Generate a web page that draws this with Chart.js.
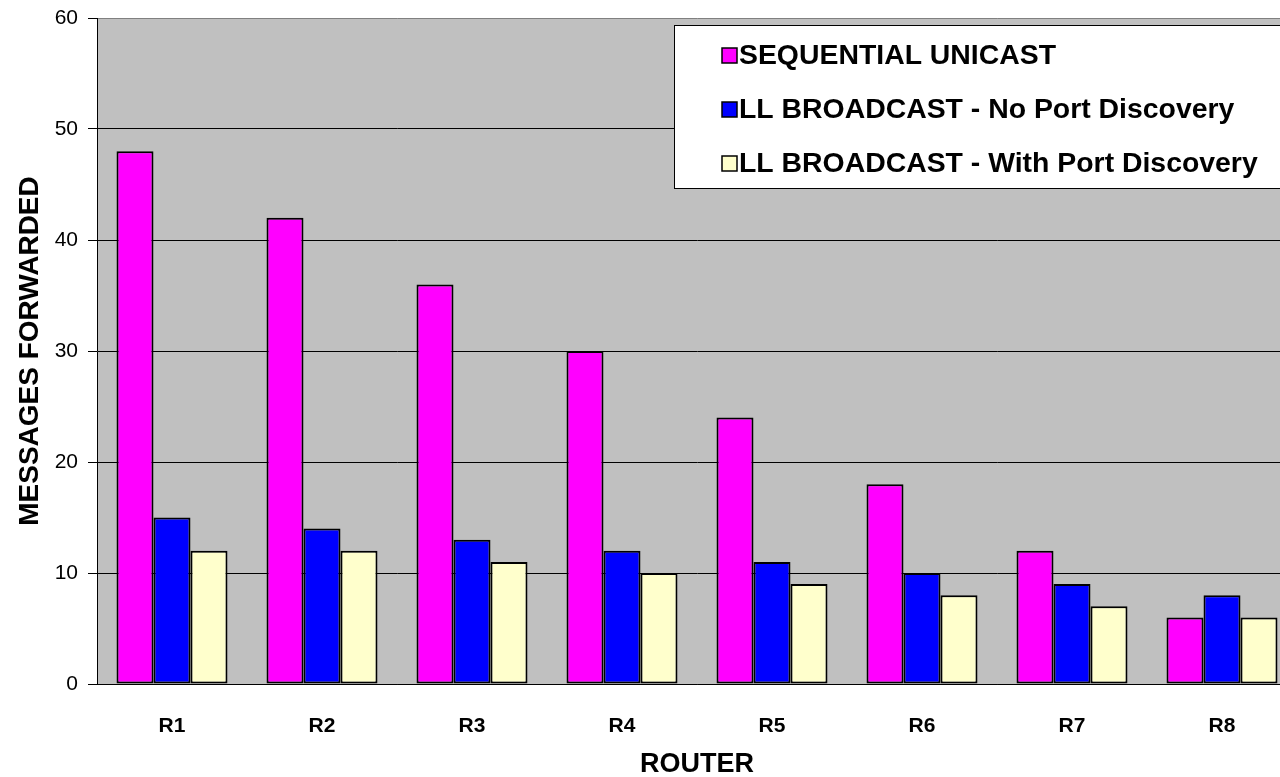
<!DOCTYPE html>
<html>
<head>
<meta charset="utf-8">
<script src="https://cdn.jsdelivr.net/npm/chart.js@4"></script>
<style>
  html, body { margin: 0; padding: 0; background: #fff; overflow: hidden; }
  #wrap { width: 1300px; height: 777px; }
</style>
</head>
<body>
<div id="wrap"><canvas id="c" width="1300" height="777"></canvas></div>
<script>
const routers = ['R1', 'R2', 'R3', 'R4', 'R5', 'R6', 'R7', 'R8'];
const seqUnicast = [48, 42, 36, 30, 24, 18, 12, 6];
const llNoDiscovery = [15, 14, 13, 12, 11, 10, 9, 8];
const llWithDiscovery = [12, 12, 11, 10, 9, 8, 7, 6];
const yTicks = [0, 10, 20, 30, 40, 50, 60];

const FONT = '"Liberation Sans", Arial, sans-serif';

// Gray plot background behind the bars
const plotBackground = {
  id: 'plotBackground',
  beforeDraw(chart) {
    const { ctx, chartArea: a } = chart;
    ctx.save();
    ctx.fillStyle = '#C0C0C0';
    ctx.fillRect(a.left, a.top, a.right - a.left, a.bottom - a.top);
    ctx.restore();
  }
};

// Boxed legend in the upper right of the plot
const boxedLegend = {
  id: 'boxedLegend',
  afterDraw(chart) {
    const { ctx } = chart;
    const x = 674, y = 25, w = 618, h = 163;
    ctx.save();
    ctx.fillStyle = '#fff';
    ctx.fillRect(x, y, w, h);
    ctx.strokeStyle = '#000';
    ctx.lineWidth = 1;
    ctx.strokeRect(x + 0.5, y + 0.5, w, h);
    ctx.font = 'bold 28.4px ' + FONT;
    ctx.textBaseline = 'middle';
    chart.data.datasets.forEach((ds, i) => {
      const cy = 55 + i * 54;
      ctx.fillStyle = ds.backgroundColor;
      ctx.fillRect(722, cy - 7, 15, 15);
      ctx.strokeStyle = '#000';
      ctx.lineWidth = 1.5;
      ctx.strokeRect(722, cy - 7, 15, 15);
      ctx.fillStyle = '#000';
      ctx.fillText(ds.label, 739, cy + 1);
    });
    ctx.restore();
  }
};

new Chart(document.getElementById('c'), {
  type: 'bar',
  data: {
    labels: routers,
    datasets: [
      { label: 'SEQUENTIAL UNICAST', data: seqUnicast, backgroundColor: '#FF00FF' },
      { label: 'LL BROADCAST - No Port Discovery', data: llNoDiscovery, backgroundColor: '#0000FF' },
      { label: 'LL BROADCAST - With Port Discovery', data: llWithDiscovery, backgroundColor: '#FFFFCC' }
    ]
  },
  options: {
    responsive: false,
    animation: false,
    layout: { padding: { top: 18, right: 3, left: 0, bottom: 0 } },
    datasets: {
      bar: {
        borderColor: '#000',
        borderWidth: 2,
        borderSkipped: false,
        categoryPercentage: 0.74,
        barPercentage: 1.0
      }
    },
    plugins: {
      legend: { display: false },
      tooltip: { enabled: false }
    },
    scales: {
      x: {
        grid: { display: false, drawTicks: false },
        border: { display: true, color: '#000', width: 1 },
        ticks: { color: '#000', padding: 30, font: { family: FONT, size: 21, weight: 'bold' } },
        title: {
          display: true, text: 'ROUTER', color: '#000',
          font: { family: FONT, size: 27, weight: 'bold' },
          padding: { top: 0, bottom: -4 }
        },
        afterFit(scale) { scale.height = 93; scale.paddingLeft = 0; scale.paddingRight = 0; }
      },
      y: {
        min: 0, max: 60,
        afterBuildTicks(scale) { scale.ticks = yTicks.map(v => ({ value: v })); },
        grid: {
          color: ctx => (ctx.tick && ctx.tick.value === 60 ? '#808080' : '#000'),
          lineWidth: 1,
          tickLength: 9,
          tickColor: '#000'
        },
        border: { display: true, color: '#000', width: 1 },
        ticks: { color: '#000', padding: 10, font: { family: FONT, size: 21 } },
        title: {
          display: true, text: 'MESSAGES FORWARDED', color: '#000',
          font: { family: FONT, size: 28, weight: 'bold' },
          padding: { top: 13, bottom: 0 }
        },
        afterFit(scale) { scale.width = 97; scale.paddingTop = 0; scale.paddingBottom = 0; }
      }
    }
  },
  plugins: [plotBackground, boxedLegend]
});
</script>
</body>
</html>
